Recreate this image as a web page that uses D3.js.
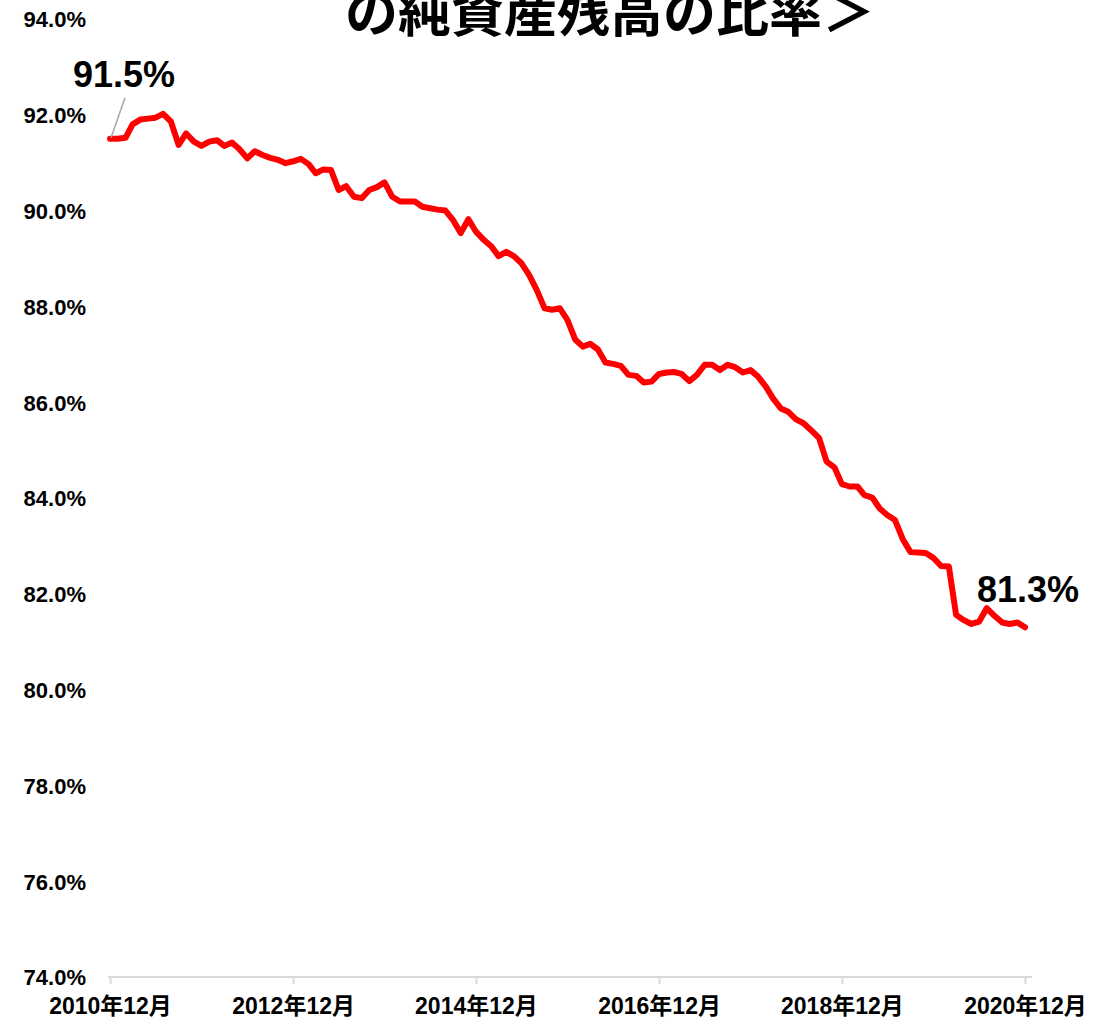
<!DOCTYPE html>
<html>
<head>
<meta charset="utf-8">
<script src="https://cdn.jsdelivr.net/npm/d3@7"></script>
<style>
  html, body { margin: 0; padding: 0; background: #ffffff; }
  svg { display: block; }
  text { font-family: "Liberation Sans", Arial, "Noto Sans CJK JP", sans-serif; font-weight: bold; }
</style>
</head>
<body>
<script>
// Share of net assets (%), monthly from 2010年12月 to 2020年12月
const startMonth = new Date(2010, 11, 1);
const shareValues = [
  91.5, 91.50, 91.52, 91.80, 91.90, 91.92, 91.94, 92.02, 91.86, 91.37,
  91.61, 91.44, 91.35, 91.44, 91.47, 91.35, 91.42, 91.28, 91.09, 91.24,
  91.16, 91.10, 91.06, 90.99, 91.03, 91.08, 90.97, 90.78, 90.86, 90.85,
  90.43, 90.51, 90.29, 90.26, 90.43, 90.49, 90.59, 90.29, 90.19, 90.19,
  90.19, 90.08, 90.05, 90.02, 90.00, 89.80, 89.53, 89.82, 89.56, 89.39,
  89.25, 89.05, 89.14, 89.05, 88.90, 88.66, 88.34, 87.96, 87.93, 87.96,
  87.72, 87.31, 87.16, 87.22, 87.10, 86.83, 86.80, 86.76, 86.57, 86.55,
  86.41, 86.43, 86.59, 86.62, 86.63, 86.59, 86.44, 86.57, 86.78, 86.78,
  86.67, 86.78, 86.73, 86.62, 86.67, 86.53, 86.32, 86.08, 85.87, 85.80,
  85.64, 85.56, 85.41, 85.25, 84.76, 84.64, 84.29, 84.24, 84.24, 84.06,
  84.01, 83.78, 83.64, 83.54, 83.14, 82.87, 82.86, 82.85, 82.75, 82.58,
  82.57, 81.56, 81.45, 81.37, 81.42, 81.70, 81.54, 81.40, 81.37, 81.40,
  81.3
];
const months = shareValues.map((_, i) => d3.timeMonth.offset(startMonth, i));
const tickLabels = ["2010年12月", "2012年12月", "2014年12月", "2016年12月", "2018年12月", "2020年12月"];
const yTicks = [74, 76, 78, 80, 82, 84, 86, 88, 90, 92, 94];
const titleLine = "の純資産残高の比率＞";

const W = 1099, H = 1025;
const svg = d3.select("body").append("svg").attr("width", W).attr("height", H);

const x = d3.scaleTime()
  .domain([months[0], months[months.length - 1]])
  .range([110, 1025]);
const y = d3.scaleLinear().domain([74, 94]).range([977, 19]);

// title (second line of the heading, upper part runs past the top edge)
svg.append("text")
  .attr("x", 610).attr("y", 32)
  .attr("text-anchor", "middle")
  .attr("font-size", 53)
  .style("font-family", "'Noto Sans CJK JP', sans-serif")
  .attr("fill", "#000")
  .text(titleLine);

// y axis labels (no axis line)
const yAxis = d3.axisLeft(y)
  .tickValues(yTicks)
  .tickFormat(d => d3.format(".1f")(d) + "%")
  .tickSize(0)
  .tickPadding(0);
const gy = svg.append("g").attr("transform", "translate(86,0)").call(yAxis);
gy.select(".domain").remove();
gy.selectAll("text").attr("font-size", 22).attr("fill", "#000").attr("dy", "0.36em");

// x axis
const tickDates = tickLabels.map(s => {
  const m = s.match(/(\d+)年(\d+)月/);
  return new Date(+m[1], +m[2] - 1, 1);
});
const xAxis = d3.axisBottom(x)
  .tickValues(tickDates)
  .tickFormat((d, i) => tickLabels[i])
  .tickSize(7)
  .tickSizeOuter(0)
  .tickPadding(14);
const gx = svg.append("g").attr("transform", "translate(0,977)").call(xAxis);
gx.select(".domain").attr("stroke", "#d9d9d9").attr("stroke-width", 2)
  .attr("d", "M108,0H1032");
gx.selectAll(".tick line").attr("stroke", "#d9d9d9").attr("stroke-width", 2);
gx.selectAll("text").attr("font-size", 23).attr("fill", "#000");

// series line
const line = d3.line()
  .x((d, i) => x(months[i]))
  .y(d => y(d));
svg.append("path")
  .datum(shareValues)
  .attr("d", line)
  .attr("fill", "none")
  .attr("stroke", "#ff0000")
  .attr("stroke-width", 6)
  .attr("stroke-linejoin", "round")
  .attr("stroke-linecap", "round");

// start and end value labels
const first = shareValues[0], last = shareValues[shareValues.length - 1];
const x0 = x(months[0]), y0 = y(first);
svg.append("line")
  .attr("x1", x0 + 1).attr("y1", y0 - 1)
  .attr("x2", x0 + 15).attr("y2", y0 - 41)
  .attr("stroke", "#a6a6a6").attr("stroke-width", 1.5);
svg.append("text")
  .attr("x", x0 + 14).attr("y", y0 - 52)
  .attr("text-anchor", "middle")
  .attr("font-size", 36)
  .attr("fill", "#000")
  .text(d3.format(".1f")(first) + "%");

const x1 = x(months[months.length - 1]), y1 = y(last);
svg.append("text")
  .attr("x", x1 + 3).attr("y", y1 - 25)
  .attr("text-anchor", "middle")
  .attr("font-size", 36)
  .attr("fill", "#000")
  .text(d3.format(".1f")(last) + "%");
</script>
</body>
</html>
